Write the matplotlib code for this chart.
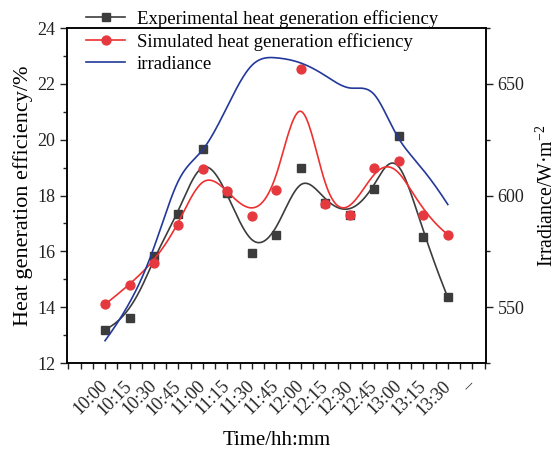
import numpy as np
import matplotlib
matplotlib.use("Agg")
import matplotlib.pyplot as plt
from matplotlib.ticker import MultipleLocator
from matplotlib.transforms import ScaledTranslation

# time labels (15 minute steps) plus the empty slot Origin leaves at the end
times = ["10:00", "10:15", "10:30", "10:45", "11:00", "11:15", "11:30", "11:45",
         "12:00", "12:15", "12:30", "12:45", "13:00", "13:15", "13:30"]
tick_labels = times + ["\u2013"]

# heat generation efficiency, %
exp_eff = [13.2, 13.6, 15.85, 17.35, 19.65, 18.1, 15.95, 16.6,
           19.0, 17.75, 17.3, 18.25, 20.15, 16.5, 14.35]
sim_eff = [14.1, 14.8, 15.6, 16.95, 18.95, 18.15, 17.25, 18.2,
           22.55, 17.7, 17.3, 19.0, 19.25, 17.3, 16.6]

# irradiance, W/m2
irradiance = [535, 550, 574, 612, 618, 640, 662, 662,
              660, 654, 646, 651, 621, 613, 596]

BLACK = "#3c3c3c"
RED = "#ee3030"
RED_MK = "#e5393f"
BLUE = "#23389b"

plt.rcParams["font.family"] = ["Liberation Serif", "DejaVu Serif"]
plt.rcParams["mathtext.fontset"] = "custom"
plt.rcParams["mathtext.rm"] = "Liberation Serif"


def bspline(cx, cy, num=400):
    """Clamped cubic B-spline using the data as control points (Origin's B-Spline line)"""
    cx = np.asarray(cx, float)
    cy = np.asarray(cy, float)
    m = len(cy)
    kn = np.r_[[0.0] * 3, np.arange(m - 2), [m - 3.0] * 3]
    t = np.linspace(0, m - 3, num)
    t[-1] -= 1e-9
    B = ((t[:, None] >= kn[None, :-1]) & (t[:, None] < kn[None, 1:])).astype(float)
    for d in range(1, 4):
        nb = B.shape[1] - 1
        nB = np.zeros((len(t), nb))
        for i in range(nb):
            d1 = kn[i + d] - kn[i]
            d2 = kn[i + d + 1] - kn[i + 1]
            if d1 > 0:
                nB[:, i] += (t - kn[i]) / d1 * B[:, i]
            if d2 > 0:
                nB[:, i] += (kn[i + d + 1] - t) / d2 * B[:, i + 1]
        B = nB
    return B @ cx, B @ cy


fig = plt.figure(figsize=(5.59, 4.49), dpi=100)
ax = fig.add_axes([0.120, 0.1915, 0.749, 0.746])
ax2 = ax.twinx()

x = np.arange(len(times))
SQ = 5.6
CI = 6.4

bx, by = bspline(x, exp_eff)
ax.plot(bx, by, color=BLACK, lw=1.2)
ax.plot(x, exp_eff, ls="none", marker="s", ms=SQ, color=BLACK)

bx, by = bspline(x, sim_eff)
ax.plot(bx, by, color=RED, lw=1.2)
ax.plot(x, sim_eff, ls="none", marker="o", ms=CI, color=RED_MK)

bx, by = bspline(x, irradiance)
ax2.plot(bx, by, color=BLUE, lw=1.2)

# legend proxies
h1, = ax.plot([], [], color=BLACK, lw=1.2, marker="s", ms=SQ)
h2, = ax.plot([], [], color=RED, lw=1.2, marker="o", ms=CI, mfc=RED_MK, mec=RED_MK)
h3, = ax.plot([], [], color=BLUE, lw=1.2)
ax.legend([h1, h2, h3],
          ["Experimental heat generation efficiency",
           "Simulated heat generation efficiency",
           "irradiance"],
          loc="upper left", bbox_to_anchor=(86 / 559, 1 - 10 / 449),
          bbox_transform=fig.transFigure, frameon=False, fontsize=13.5,
          handlelength=2.1, handletextpad=0.6, labelspacing=0.27,
          borderpad=0, borderaxespad=0)

ax.set_xlim(-1.55, 15.55)
ax.set_xticks(np.arange(len(tick_labels)))
ax.set_xticklabels(tick_labels, rotation=45, ha="right", rotation_mode="anchor")
ax.xaxis.set_minor_locator(MultipleLocator(0.5))
ax.set_ylim(12, 24)
ax.yaxis.set_major_locator(MultipleLocator(2))
ax.yaxis.set_minor_locator(MultipleLocator(1))
ax2.set_ylim(525, 675)
ax2.yaxis.set_major_locator(MultipleLocator(50))
ax2.yaxis.set_minor_locator(MultipleLocator(25))

for a in (ax, ax2):
    for s in a.spines.values():
        s.set_linewidth(1.1)
    a.tick_params(which="both", direction="out", width=1.0, labelsize=13, colors="#222222")
    a.tick_params(which="major", length=5)
    a.tick_params(which="minor", length=3)
ax.tick_params(axis="x", which="both", length=4, pad=2)

# shift rotated time labels so they end just under their tick
shift = ScaledTranslation(-6 / 100, -6 / 100, fig.dpi_scale_trans)
for lbl in ax.get_xticklabels():
    lbl.set_transform(lbl.get_transform() + shift)

ax.set_xlabel("Time/hh:mm", fontsize=15, labelpad=9)
ax.set_ylabel("Heat generation efficiency/%", fontsize=16, labelpad=3)
ax2.set_ylabel("Irradiance/W\u00b7m$^{-2}$", fontsize=14.2, labelpad=8)

fig.savefig("out.png", dpi=100)
